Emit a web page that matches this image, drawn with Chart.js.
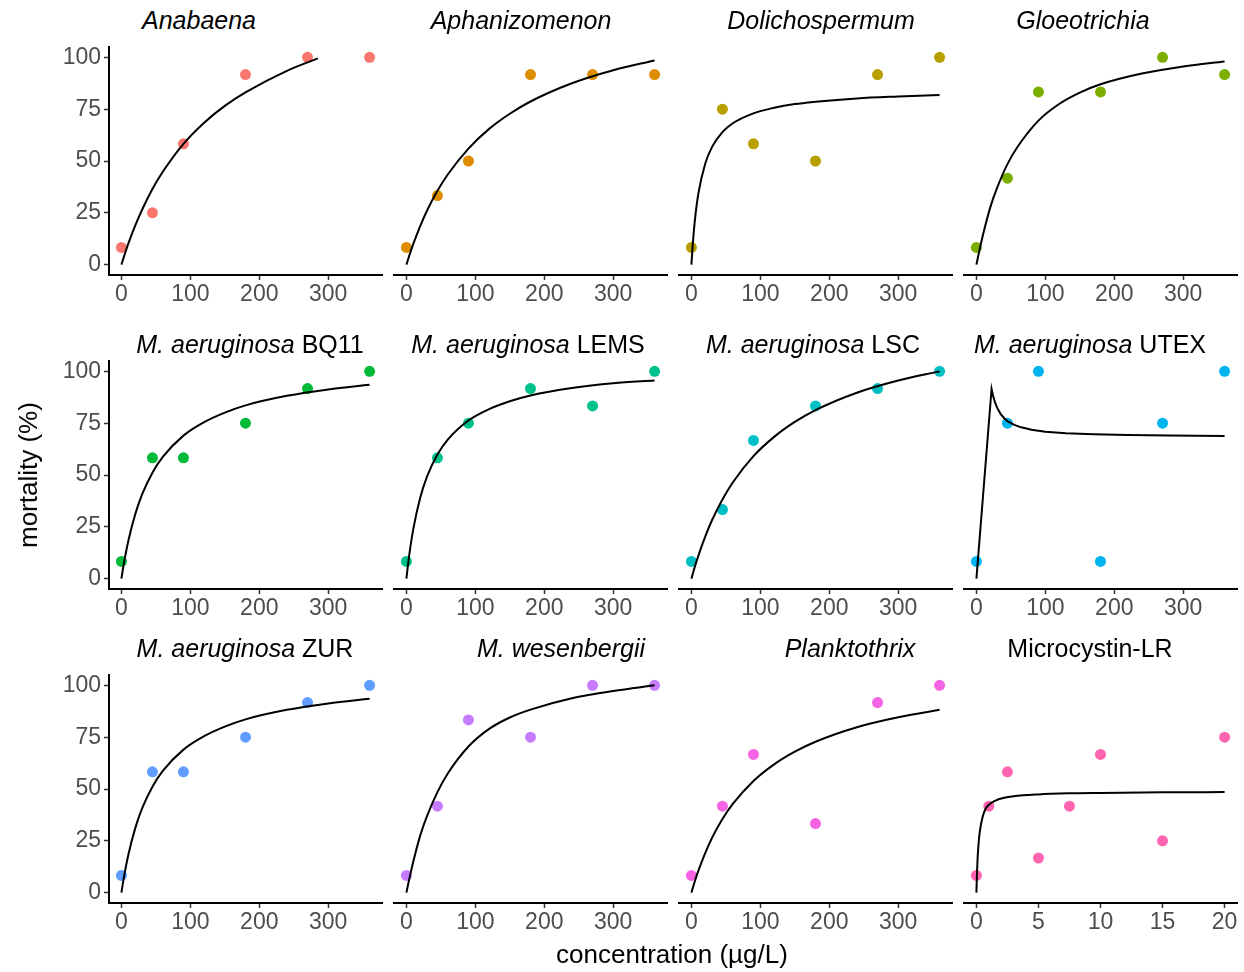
<!DOCTYPE html>
<html lang="en">
<head>
<meta charset="UTF-8">
<title>mortality vs concentration</title>
<script src="https://cdn.jsdelivr.net/npm/chart.js@4.4.0/dist/chart.umd.min.js"></script>
<style>
  body { margin: 0; background: #fff; width: 1244px; height: 972px; position: relative; overflow: hidden;
         font-family: "Liberation Sans", Arial, sans-serif; }
  .strip { position: absolute; font-size: 25px; line-height: 25px; color: #000; white-space: nowrap;
           transform: translate(-50%, -50%); }
  .axt { position: absolute; font-size: 26px; line-height: 26px; color: #000; white-space: nowrap; }
</style>
</head>
<body>
<script>
// ---- data ----
// exposure concentrations (µg/L)
const conc = [0, 45, 90, 180, 270, 360];
const mcConc = [0, 1, 2.5, 5, 7.5, 10, 15, 20];

// observed mortality (%)
const anabaena      = [8.3, 25, 58.3, 91.7, 100, 100];
const aphanizomenon = [8.3, 33.3, 50, 91.7, 91.7, 91.7];
const dolichosperm  = [8.3, 75, 58.3, 50, 91.7, 100];
const gloeotrichia  = [8.3, 41.7, 83.3, 83.3, 100, 91.7];
const maBQ11        = [8.3, 58.3, 58.3, 75, 91.7, 100];
const maLEMS        = [8.3, 58.3, 75, 91.7, 83.3, 100];
const maLSC         = [8.3, 33.3, 66.7, 83.3, 91.7, 100];
const maUTEX        = [8.3, 75, 100, 8.3, 75, 100];
const maZUR         = [8.3, 58.3, 58.3, 75, 91.7, 100];
const wesenbergii   = [8.3, 41.7, 83.3, 75, 100, 100];
const planktothrix  = [8.3, 41.7, 66.7, 33.3, 91.7, 100];
const mcLR          = [8.3, 41.7, 58.3, 16.7, 41.7, 66.7, 25, 75];

// fitted curves, read at these concentrations
const fitConc     = [0, 2, 5, 10, 20, 30, 45, 60, 90, 120, 150, 180, 240, 300, 360];
const fitConcAna  = [0, 2, 5, 10, 20, 30, 45, 60, 90, 120, 150, 180, 240, 285];
const fitConcUTEX = [0, 22, 24, 27, 30, 35, 40, 45, 55, 65, 80, 100, 130, 170, 220, 280, 360];
const fitConcMC   = [0, 0.05, 0.1, 0.2, 0.3, 0.5, 0.75, 1, 1.5, 2, 3, 5, 7.5, 10, 15, 20];

const fitAnabaena  = [0, 2.1, 5.2, 10.1, 18.8, 26.5, 36.5, 44.8, 58.3, 68.5, 76.6, 83.1, 93.5, 99.5];
const fitAphaniz   = [0, 2.1, 5.2, 10.0, 18.6, 26.1, 35.6, 43.5, 56.0, 65.5, 72.8, 78.7, 87.5, 93.8, 98.5];
const fitDolicho   = [0, 10.0, 21.3, 34.1, 48.7, 56.8, 63.9, 68.2, 73.0, 75.7, 77.5, 78.6, 80.2, 81.1, 81.8];
const fitGloeo     = [0, 3.2, 7.8, 15, 27.5, 37, 48.5, 57, 69.5, 77.5, 83, 87, 92.2, 95.6, 98];
const fitBQ11      = [0, 4.2, 9.9, 18.2, 31.0, 40.6, 51.1, 58.7, 69.0, 75.5, 80.1, 83.6, 88.2, 91.3, 93.5];
const fitLEMS      = [0, 5.8, 13.5, 23.9, 39.0, 49.3, 59.9, 67.1, 76.3, 81.8, 85.6, 88.4, 92.0, 94.3, 95.6];
const fitLSC       = [0, 2.4, 5.8, 11.0, 20.3, 28.3, 38.2, 46.4, 59.1, 68.4, 75.6, 81.3, 89.7, 95.6, 100];
const fitUTEX      = [0, 91.5, 88.5, 85, 82.5, 79.5, 77.5, 76, 74.2, 73, 71.8, 70.9, 70.2, 69.7, 69.3, 69, 68.8];
const fitZUR       = [0, 4.2, 9.9, 18.2, 31.0, 40.6, 51.1, 58.7, 69.0, 75.5, 80.1, 83.6, 88.2, 91.3, 93.5];
const fitWesenb    = [0, 3.2, 7.8, 15, 27.5, 37, 48.5, 57.5, 70.5, 79, 84.5, 88.3, 93.8, 97.3, 100];
const fitPlankto   = [0, 2.3, 5.5, 10.5, 19.1, 26.5, 35.5, 42.8, 53.9, 61.9, 68.0, 72.8, 79.8, 84.6, 88.2];
const fitMC        = [0, 10, 17, 25.5, 30.5, 36.5, 40.6, 42.4, 44.3, 45.4, 46.5, 47.4, 47.9, 48.1, 48.4, 48.5];

// tick labels
const yTicks = [0, 25, 50, 75, 100];
const concTicks = [0, 100, 200, 300];
const mcTicks = [0, 5, 10, 15, 20];

const titles = [
  '<i>Anabaena</i>', '<i>Aphanizomenon</i>', '<i>Dolichospermum</i>', '<i>Gloeotrichia</i>',
  '<i>M. aeruginosa</i> BQ11', '<i>M. aeruginosa</i> LEMS', '<i>M. aeruginosa</i> LSC', '<i>M. aeruginosa</i> UTEX',
  '<i>M. aeruginosa</i> ZUR', '<i>M. wesenbergii</i>', '<i>Planktothrix</i>', 'Microcystin-LR'
];
const colors = ['#F8766D', '#DE8C00', '#B79F00', '#7CAE00', '#00BA38', '#00C08B',
                '#00BFC4', '#00B4F0', '#619CFF', '#C77CFF', '#F564E3', '#FF64B0'];

const panels = [
  { x: conc, y: anabaena,      fx: fitConcAna,  fy: fitAnabaena },
  { x: conc, y: aphanizomenon, fx: fitConc,     fy: fitAphaniz },
  { x: conc, y: dolichosperm,  fx: fitConc,     fy: fitDolicho },
  { x: conc, y: gloeotrichia,  fx: fitConc,     fy: fitGloeo },
  { x: conc, y: maBQ11,        fx: fitConc,     fy: fitBQ11 },
  { x: conc, y: maLEMS,        fx: fitConc,     fy: fitLEMS },
  { x: conc, y: maLSC,         fx: fitConc,     fy: fitLSC },
  { x: conc, y: maUTEX,        fx: fitConcUTEX, fy: fitUTEX, straight: true },
  { x: conc, y: maZUR,         fx: fitConc,     fy: fitZUR },
  { x: conc, y: wesenbergii,   fx: fitConc,     fy: fitWesenb },
  { x: conc, y: planktothrix,  fx: fitConc,     fy: fitPlankto },
  { x: mcConc, y: mcLR,        fx: fitConcMC,   fy: fitMC, mc: true }
];

// ---- layout (px) ----
const FONT = '"Liberation Sans", Arial, sans-serif';
const colLeft = [109, 394, 679, 964];
const rowTop = [47, 361, 675];
const plotW = 273, plotH = 228;
const YW = 70, XH = 50, PT = 12, PR = 12;
const titleX = [199, 521, 821, 1083, 250, 528, 813, 1090, 245, 561, 850, 1090];
const titleY = [19.5, 344, 648];

const pts = (xs, ys) => xs.map((v, k) => ({ x: v, y: ys[k] }));

panels.forEach(function (p, i) {
  const r = Math.floor(i / 4), c = i % 4;
  const W = YW + plotW + PR, H = PT + plotH + XH;
  const cv = document.createElement('canvas');
  cv.width = W; cv.height = H;
  cv.style.cssText = 'position:absolute;left:' + (colLeft[c] - YW) + 'px;top:' + (rowTop[r] - PT) +
                     'px;width:' + W + 'px;height:' + H + 'px';
  document.body.appendChild(cv);

  const xt = p.mc ? mcTicks : concTicks;
  const xmin = p.mc ? -1 : -18, xmax = p.mc ? 21 : 378;
  const showY = c === 0;

  new Chart(cv, {
    type: 'scatter',
    data: {
      datasets: [
        { data: pts(p.x, p.y), backgroundColor: colors[i], borderWidth: 0, pointRadius: 5.5, order: 1 },
        { data: pts(p.fx, p.fy), showLine: true, borderColor: '#000', borderWidth: 2, pointRadius: 0,
          cubicInterpolationMode: p.straight ? 'default' : 'monotone', tension: 0, order: 0 }
      ]
    },
    options: {
      responsive: false, animation: false, devicePixelRatio: 1,
      layout: { padding: { left: 0, top: PT, right: PR, bottom: 0 } },
      plugins: { legend: { display: false }, tooltip: { enabled: false } },
      scales: {
        x: {
          type: 'linear', min: xmin, max: xmax,
          afterBuildTicks: s => { s.ticks = xt.map(v => ({ value: v })); },
          afterFit: s => { s.height = XH; s.paddingLeft = 0; s.paddingRight = 0; },
          border: { display: true, color: '#000', width: 2 },
          grid: { drawOnChartArea: false, drawTicks: true, tickLength: 5, tickColor: '#333', tickWidth: 1.5 },
          ticks: { color: '#4d4d4d', font: { family: FONT, size: 23 }, padding: 1, maxRotation: 0, autoSkip: false }
        },
        y: {
          type: 'linear', min: -5, max: 105,
          afterBuildTicks: s => { s.ticks = yTicks.map(v => ({ value: v })); },
          afterFit: s => { s.width = YW; s.paddingTop = 0; s.paddingBottom = 0; },
          border: { display: showY, color: '#000', width: 2 },
          grid: { display: showY, drawOnChartArea: false, drawTicks: true, tickLength: 5, tickColor: '#333', tickWidth: 1.5 },
          ticks: { display: showY, color: '#4d4d4d', font: { family: FONT, size: 23 }, padding: 3 }
        }
      }
    }
  });

  const t = document.createElement('div');
  t.className = 'strip';
  t.innerHTML = titles[i];
  t.style.left = titleX[i] + 'px';
  t.style.top = titleY[r] + 'px';
  document.body.appendChild(t);
});

// axis titles
const yLab = document.createElement('div');
yLab.className = 'axt';
yLab.textContent = 'mortality (%)';
yLab.style.left = '28px';
yLab.style.top = '475px';
yLab.style.transform = 'translate(-50%, -50%) rotate(-90deg)';
document.body.appendChild(yLab);

const xLab = document.createElement('div');
xLab.className = 'axt';
xLab.textContent = 'concentration (\u00b5g/L)';
xLab.style.left = '672px';
xLab.style.top = '954px';
xLab.style.transform = 'translate(-50%, -50%)';
document.body.appendChild(xLab);
</script>
</body>
</html>
